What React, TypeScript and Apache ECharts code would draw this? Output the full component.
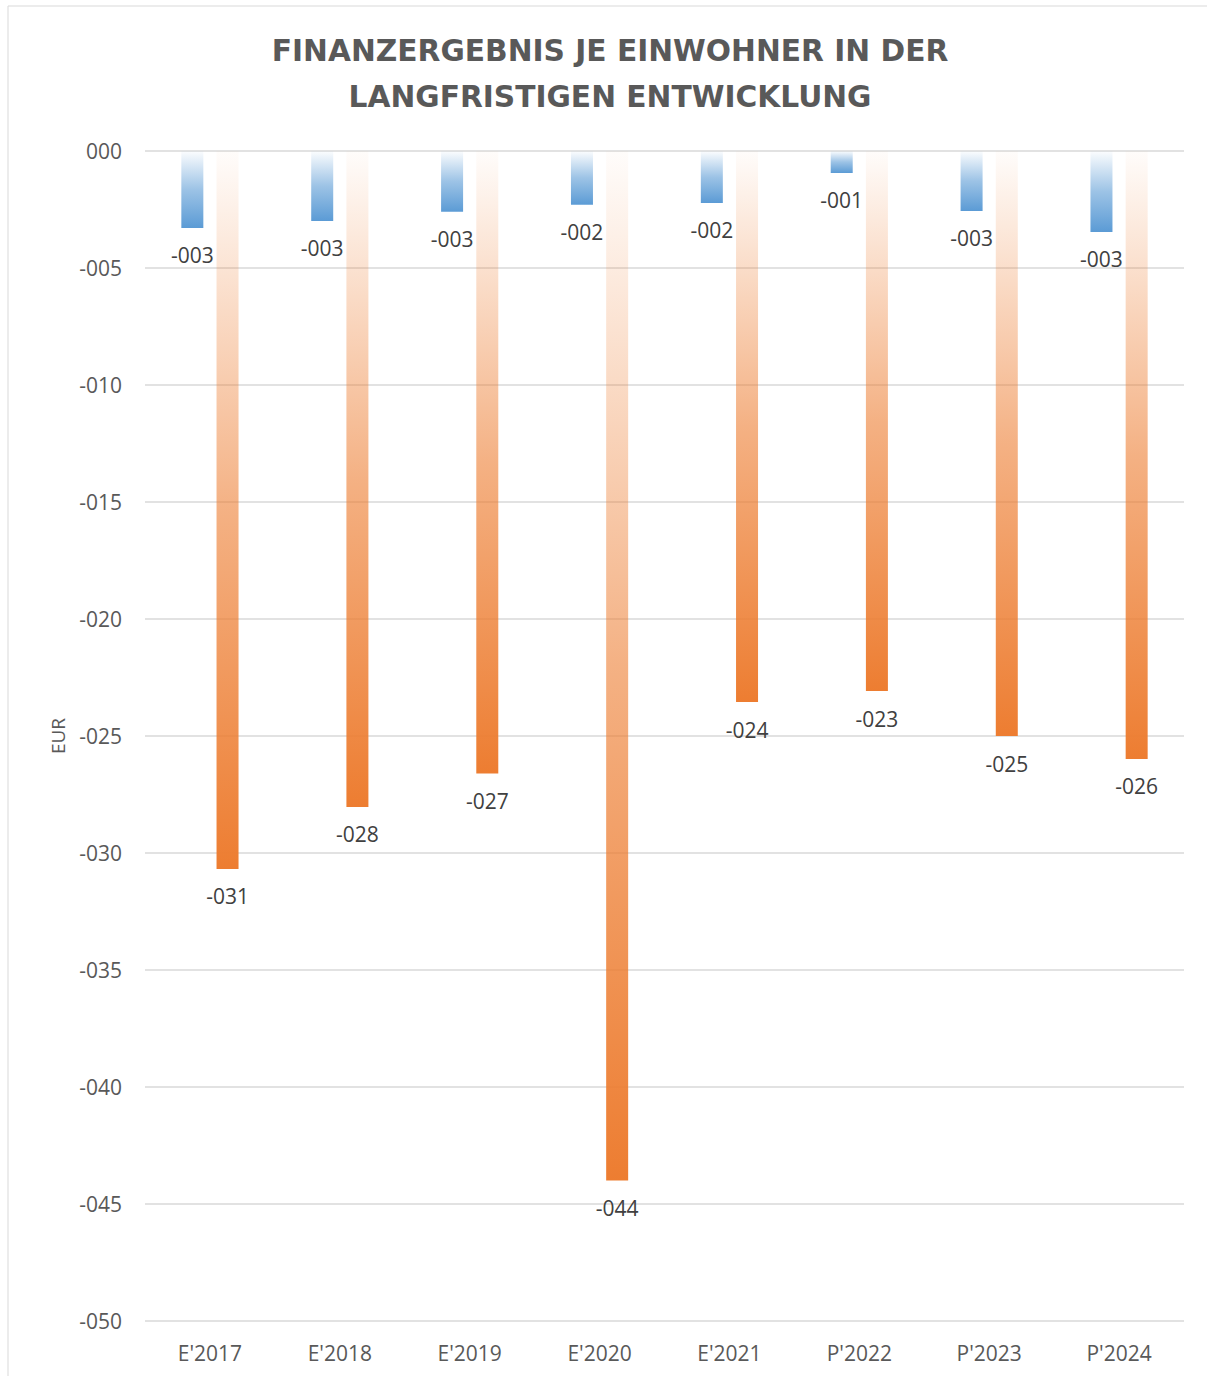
import React, { useEffect, useRef } from "react";
import * as echarts from "echarts";

const categories = ["E'2017", "E'2018", "E'2019", "E'2020", "E'2021", "P'2022", "P'2023", "P'2024"];
const blueValues = [-3.29, -2.99, -2.6, -2.3, -2.22, -0.94, -2.56, -3.46];
const orangeValues = [-30.68, -28.03, -26.6, -44.0, -23.55, -23.08, -25.0, -25.98];
const titleLines = ["FINANZERGEBNIS JE EINWOHNER IN DER", "LANGFRISTIGEN ENTWICKLUNG"];
const yAxisName = "EUR";

const fmt = (v: number) => {
  const r = Math.round(Math.abs(v));
  const s = String(r).padStart(3, "0");
  return (v < 0 && r !== 0 ? "-" : "") + s;
};

const grad = (r: number, g: number, b: number) =>
  new echarts.graphic.LinearGradient(0, 0, 0, 1, [
    { offset: 0, color: `rgba(${r},${g},${b},0.02)` },
    { offset: 0.5, color: `rgba(${r},${g},${b},0.6)` },
    { offset: 1, color: `rgba(${r},${g},${b},1)` },
  ]);

export default function App() {
  const ref = useRef<HTMLDivElement>(null);
  useEffect(() => {
    document.body.style.margin = "0";
    const chart = echarts.init(ref.current!, null, { renderer: "svg" });
    const font = "'Open Sans', 'DejaVu Sans', sans-serif";
    const labelStyle = {
      show: true,
      position: "bottom" as const,
      distance: 17,
      fontFamily: font,
      fontSize: 21,
      color: "#404040",
      formatter: (p: any) => fmt(p.value),
    };
    chart.setOption({
      animation: false,
      backgroundColor: "#ffffff",
      title: {
        text: titleLines.join("\n"),
        left: 605,
        textAlign: "center",
        top: 22,
        textStyle: {
          fontFamily: "'DejaVu Sans', sans-serif",
          fontWeight: "bold",
          fontSize: 29.7,
          lineHeight: 46,
          color: "#595959",
        },
      },
      graphic: [
        {
          type: "rect",
          shape: { x: 8, y: 6, width: 1300, height: 1500 },
          style: { fill: "none", stroke: "#d9d9d9", lineWidth: 1 },
          silent: true,
          z: -1,
        },
      ],
      grid: { left: 145, right: 23, top: 151, bottom: 55 },
      xAxis: {
        type: "category",
        data: categories,
        axisLine: { show: false },
        axisTick: { show: false },
        axisLabel: { fontFamily: font, fontSize: 21, color: "#595959", margin: 21 },
      },
      yAxis: {
        type: "value",
        min: -50,
        max: 0,
        interval: 5,
        name: yAxisName,
        nameLocation: "middle",
        nameGap: 78,
        nameRotate: 90,
        nameTextStyle: { fontFamily: font, fontSize: 19, color: "#595959" },
        axisLabel: {
          fontFamily: font,
          fontSize: 21,
          color: "#595959",
          margin: 23,
          formatter: (v: number) => fmt(v),
        },
        splitLine: { lineStyle: { color: "#d9d9d9", width: 1.5 } },
      },
      series: [
        {
          type: "bar",
          data: blueValues,
          barWidth: 22,
          barGap: "60%",
          itemStyle: { color: grad(91, 155, 213) },
          label: labelStyle,
        },
        {
          type: "bar",
          data: orangeValues,
          barWidth: 22,
          barGap: "60%",
          itemStyle: { color: grad(237, 125, 49) },
          label: labelStyle,
        },
      ],
    });
    return () => chart.dispose();
  }, []);
  return <div ref={ref} style={{ width: 1207, height: 1376 }} />;
}
